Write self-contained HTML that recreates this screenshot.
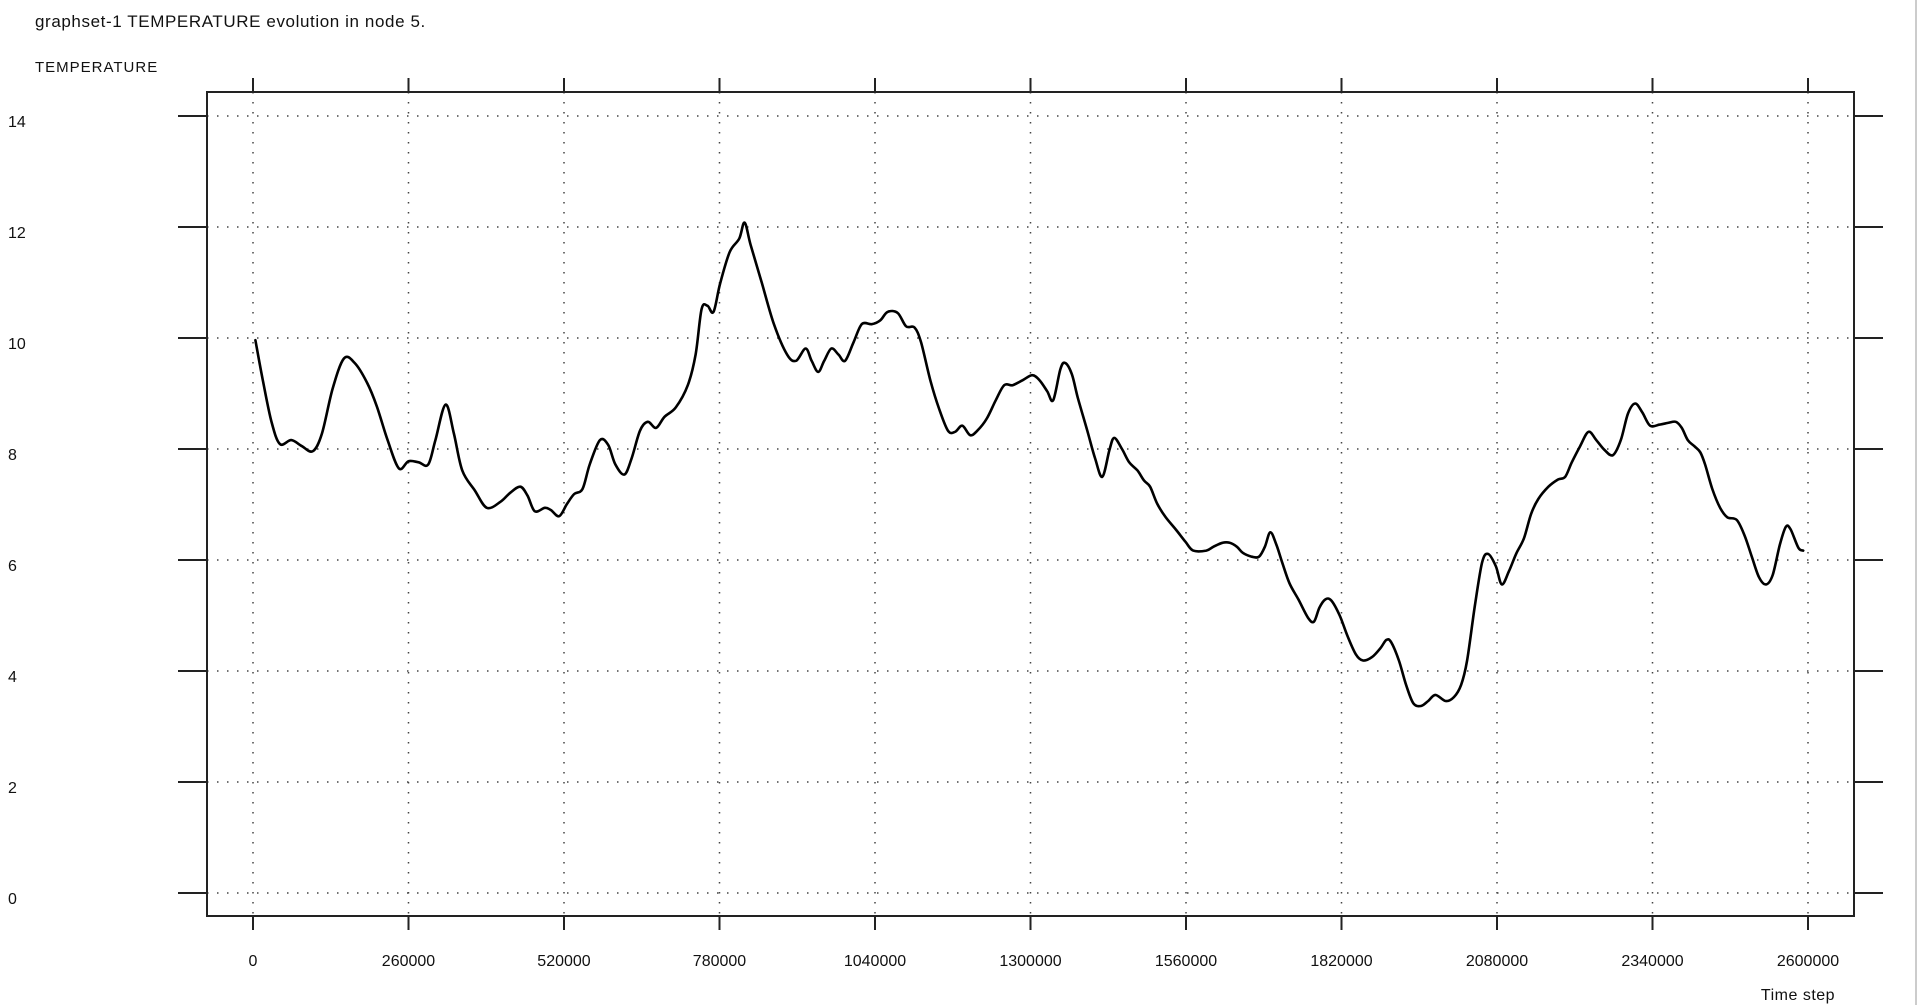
<!DOCTYPE html>
<html><head><meta charset="utf-8"><style>
html,body{margin:0;padding:0;background:#fff;width:1920px;height:1005px;overflow:hidden}
text{font-family:"Liberation Sans",sans-serif;fill:#111}
</style></head><body>
<svg id="chart" width="1920" height="1005" xmlns="http://www.w3.org/2000/svg">
<text x="35" y="27" font-size="17" letter-spacing="0.6">graphset-1 TEMPERATURE evolution in node 5.</text>
<text x="35" y="72" font-size="15" letter-spacing="1">TEMPERATURE</text>
<text x="1798" y="1000" font-size="16" letter-spacing="0.5" text-anchor="middle">Time step</text>
<line x1="1916" y1="0" x2="1916" y2="1005" stroke="#ccc" stroke-width="2"/>
<g id="grid"></g><g id="axes"></g><g id="series"></g>
</svg>
<script>
const xTicks=[0,260000,520000,780000,1040000,1300000,1560000,1820000,2080000,2340000,2600000];
const yTicks=[0,2,4,6,8,10,12,14];
const times=[4000,16000,31000,45000,64000,82000,100000,115000,133000,152000,170000,191000,207000,225000,244000,260000,277000,293000,305000,322000,336000,350000,371000,391000,414000,430000,447000,459000,471000,488000,498000,512000,525000,537000,551000,563000,580000,594000,606000,621000,633000,647000,660000,674000,688000,707000,727000,740000,750000,760000,770000,781000,797000,813000,822000,832000,850000,871000,893000,908000,924000,934000,945000,955000,967000,979000,990000,1004000,1018000,1035000,1049000,1061000,1078000,1092000,1106000,1117000,1133000,1147000,1162000,1174000,1186000,1199000,1211000,1227000,1242000,1256000,1270000,1287000,1303000,1315000,1328000,1338000,1350000,1358000,1369000,1379000,1395000,1408000,1420000,1432000,1440000,1453000,1465000,1479000,1490000,1500000,1512000,1526000,1543000,1559000,1572000,1594000,1606000,1621000,1633000,1645000,1655000,1670000,1682000,1692000,1701000,1711000,1721000,1733000,1748000,1764000,1774000,1783000,1793000,1803000,1817000,1830000,1844000,1856000,1871000,1885000,1895000,1903000,1916000,1928000,1940000,1953000,1965000,1977000,1994000,2008000,2020000,2030000,2043000,2055000,2065000,2078000,2088000,2100000,2112000,2125000,2137000,2149000,2166000,2182000,2194000,2205000,2219000,2233000,2246000,2260000,2274000,2287000,2299000,2311000,2323000,2336000,2352000,2366000,2379000,2389000,2399000,2410000,2420000,2428000,2440000,2453000,2465000,2481000,2494000,2506000,2518000,2530000,2541000,2553000,2563000,2571000,2584000,2592000];
const temps=[9.96,9.26,8.49,8.09,8.16,8.05,7.96,8.27,9.08,9.63,9.55,9.19,8.77,8.16,7.65,7.78,7.76,7.72,8.16,8.80,8.27,7.61,7.25,6.94,7.05,7.21,7.32,7.16,6.88,6.94,6.90,6.79,7.01,7.19,7.28,7.72,8.16,8.07,7.72,7.54,7.83,8.33,8.49,8.38,8.58,8.75,9.15,9.70,10.52,10.58,10.47,10.98,11.55,11.79,12.08,11.68,11.02,10.25,9.70,9.59,9.81,9.59,9.39,9.59,9.81,9.70,9.59,9.92,10.25,10.25,10.32,10.47,10.45,10.21,10.19,9.92,9.22,8.73,8.33,8.31,8.42,8.25,8.33,8.55,8.88,9.15,9.15,9.24,9.33,9.24,9.04,8.88,9.44,9.55,9.35,8.93,8.33,7.83,7.50,7.98,8.20,8.00,7.76,7.61,7.43,7.32,7.01,6.77,6.55,6.33,6.17,6.17,6.24,6.31,6.31,6.24,6.13,6.06,6.06,6.24,6.50,6.28,5.95,5.58,5.29,4.96,4.89,5.14,5.29,5.27,5.00,4.63,4.30,4.19,4.25,4.41,4.56,4.52,4.19,3.75,3.42,3.37,3.46,3.57,3.46,3.53,3.75,4.19,5.18,5.95,6.11,5.89,5.56,5.80,6.11,6.39,6.83,7.10,7.32,7.45,7.50,7.76,8.05,8.31,8.16,7.98,7.89,8.16,8.64,8.82,8.66,8.42,8.44,8.47,8.49,8.38,8.16,8.05,7.94,7.72,7.28,6.94,6.77,6.72,6.44,6.06,5.69,5.56,5.73,6.28,6.60,6.55,6.22,6.17];

const NS="http://www.w3.org/2000/svg";
const L=207,R=1854,T=92,B=916;
const xs=t=>253+t/2600000*(1808-253);
const ys=v=>893-v/14*(893-116);
function mk(tag,attrs,parent){const e=document.createElementNS(NS,tag);for(const k in attrs)e.setAttribute(k,attrs[k]);parent.appendChild(e);return e;}
const grid=document.getElementById('grid'),axes=document.getElementById('axes'),series=document.getElementById('series');
const frame=mk('rect',{x:L,y:T,width:R-L,height:B-T,fill:'none',stroke:'#222','stroke-width':2},axes);


yTicks.forEach(v=>{
  const y=ys(v);
  const g=mk('line',{x1:L,y1:y,x2:R,y2:y,stroke:'#444','stroke-width':1.5,'stroke-dasharray':'1.5 8.5'},grid);
  
  
  const t1=mk('line',{x1:178,y1:y,x2:L,y2:y,stroke:'#222','stroke-width':2},axes);
  
  
  const t2=mk('line',{x1:R,y1:y,x2:1883,y2:y,stroke:'#222','stroke-width':2},axes);
  
  
  const lb=mk('text',{x:8,y:y+11,'font-size':16},axes);lb.textContent=v;
  
  
});
xTicks.forEach(v=>{
  const x=xs(v);
  const g=mk('line',{x1:x,y1:T,x2:x,y2:B,stroke:'#444','stroke-width':1.5,'stroke-dasharray':'1.5 8.5'},grid);
  
  
  const t1=mk('line',{x1:x,y1:78,x2:x,y2:T,stroke:'#222','stroke-width':2},axes);
  
  
  const t2=mk('line',{x1:x,y1:B,x2:x,y2:930,stroke:'#222','stroke-width':2},axes);
  
  
  const lb=mk('text',{x:x,y:966,'font-size':16,'text-anchor':'middle'},axes);lb.textContent=v;
  
  
});
const P=times.map((t,i)=>[xs(t),ys(temps[i])]);
let d='M'+P[0][0].toFixed(1)+','+P[0][1].toFixed(1);
for(let i=0;i<P.length-1;i++){
  const p0=P[Math.max(0,i-1)],p1=P[i],p2=P[i+1],p3=P[Math.min(P.length-1,i+2)];
  const c1=[p1[0]+(p2[0]-p0[0])/6,p1[1]+(p2[1]-p0[1])/6];
  const c2=[p2[0]-(p3[0]-p1[0])/6,p2[1]-(p3[1]-p1[1])/6];
  d+=' C'+c1[0].toFixed(1)+','+c1[1].toFixed(1)+' '+c2[0].toFixed(1)+','+c2[1].toFixed(1)+' '+p2[0].toFixed(1)+','+p2[1].toFixed(1);
}
const line=mk('path',{d:d,fill:'none',stroke:'#000','stroke-width':2.6,'stroke-linejoin':'round','stroke-linecap':'round'},series);


</script>
</body></html>
